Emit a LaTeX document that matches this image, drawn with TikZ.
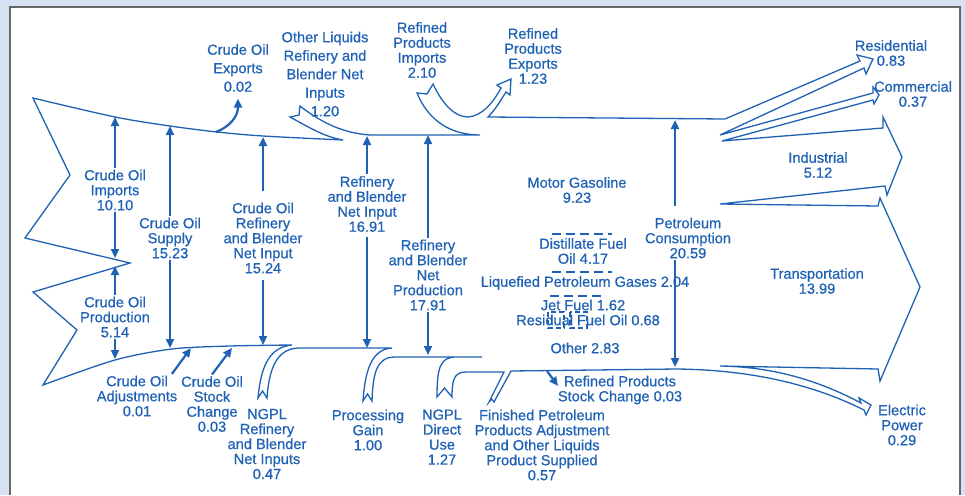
\documentclass[tikz,border=0pt]{standalone}
\usepackage{fontspec}
\setmainfont{Liberation Sans}[FakeBold=0.6]
\usetikzlibrary{arrows.meta}
\definecolor{eiablue}{HTML}{1F62B5}
\definecolor{panelblue}{HTML}{D6E2F3}

\begin{document}
\begin{tikzpicture}[x=1pt, y=-1pt,
        lbl/.style={text=eiablue, align=center, inner sep=1.5pt, font=\fontsize{14.6}{15}\selectfont},
        lblwide/.style={lbl, font=\fontsize{14.6}{18.5}\selectfont},
        flow/.style={draw=eiablue, line width=1.3pt, line join=miter},
        feed/.style={draw=eiablue, line width=2.2pt, -{Triangle[length=9pt,width=8pt]}},
        cut/.style={draw=eiablue, line width=1.8pt, dash pattern=on 9pt off 5pt}]
        \useasboundingbox (0,0) rectangle (965,495);
        \fill[panelblue] (0,0) rectangle (965,495);
        \fill[white] (10,7) rectangle (960,495);
        \draw[gray!80!black, line width=1.3pt] (10,495) -- (10,7) -- (960,7) -- (960,495);

        \draw[flow] (482,357) -- (395,357) .. controls (377,357) and (373,372) .. (372,401)
          -- (367.5,394) -- (363,401) .. controls (365,372) and (371,349) .. (392,348)
          -- (298,348) .. controls (276,349) and (269,370) .. (267,398)
          -- (262.5,391) -- (258,398) .. controls (261,365) and (270,347) .. (292,345)
          -- plot[smooth] coordinates {(292,345) (230,346) (172,349) (115,360) (43,385)}
          -- (77,330) -- (33,292) -- (130,263) -- (25,238) -- (70,175) -- (33,98)
          -- plot[smooth] coordinates {(33,98) (115,117) (170,126) (217,132) (263,136) (343,140)}
          .. controls (325,137) and (310,128) .. (290,117) -- (299,115) -- (300,106)
          .. controls (318,120) and (340,133) .. (370,135) -- (480,135)
          .. controls (450,135) and (428,120) .. (417,93) -- (427,94) -- (433,84)
          .. controls (443,105) and (455,117) .. (468,117)
          .. controls (482,116) and (493,103) .. (501,88) -- (497,85) -- (511,79) -- (510,95) -- (506,92)
          .. controls (501,100) and (495,110) .. (488,117) -- (725,119)
          -- (860,61) -- (857,55) -- (873,59) -- (866,74) -- (864,68) -- (720,135)
          -- (873,93) -- (873,87) -- (879,95) -- (874,104) -- (873,100) -- (722,141)
          -- (883,128) -- (883,117) -- (902,157) -- (887,195) -- (885,186) -- (720,204)
          -- (878,206) -- (880,198) -- (920,287) -- (880,381) -- (878,369) -- (720,366)
          .. controls (780,367) and (825,384) .. (861,403) -- (859,398) -- (871,405) -- (866,415) -- (864,410)
          .. controls (820,388) and (760,370) .. (677,369) -- (511,371)
          -- (494,402) -- (491.5,399) -- (489,402) -- (504,372) -- (466,372)
          .. controls (454,372) and (452,380) .. (452,397) -- (444.5,388) -- (437,397)
          .. controls (437,368) and (440,357) .. (456,357);

        \draw[cut] (552,234) -- (612,234);
        \draw[cut] (552,272) -- (612,272);
        \draw[cut] (550,296) -- (606,296);
        \draw[cut, dash pattern=on 5pt off 3pt] (548,312) rectangle (564,328);
        \draw[cut, dash pattern=on 5pt off 3pt] (570,312) rectangle (587,328);

        \node[lblwide] (cex) at (238,68) {Crude Oil\\Exports\\0.02};
        \node[lblwide] (oli) at (325,74) {Other Liquids\\Refinery and\\Blender Net\\Inputs\\1.20};
        \node[lbl] (rpi) at (422,50) {Refined\\Products\\Imports\\2.10};
        \node[lbl] (rpe) at (533,56) {Refined\\Products\\Exports\\1.23};
        \node[lbl] (res) at (891,53) {Residential\\0.83};
        \node[lbl] (com) at (913,94) {Commercial\\0.37};
        \node[lbl] (ind) at (818,165) {Industrial\\5.12};
        \node[lbl] (tra) at (817,281) {Transportation\\13.99};
        \node[lbl] (ele) at (902,425) {Electric\\Power\\0.29};
        \node[lbl] (mg) at (577,190) {Motor Gasoline\\9.23};
        \node[lbl] (dfo) at (583,251) {Distillate Fuel\\Oil 4.17};
        \node[lbl] (lpg) at (585,283) {Liquefied Petroleum Gases 2.04};
        \node[lbl] (jet) at (583,305) {Jet Fuel 1.62};
        \node[lbl] (rfo) at (588,320) {Residual Fuel Oil 0.68};
        \node[lbl] (oth) at (585,348) {Other 2.83};
        \node[lbl] (cons) at (688,238) {Petroleum\\Consumption\\20.59};
        \node[lbl] (rbin) at (367,204) {Refinery\\and Blender\\Net Input\\16.91};
        \node[lbl] (rbp) at (428,275) {Refinery\\and Blender\\Net\\Production\\17.91};
        \node[lbl] (imp) at (115,190) {Crude Oil\\Imports\\10.10};
        \node[lbl] (sup) at (170,238) {Crude Oil\\Supply\\15.23};
        \node[lbl] (cref) at (263,238) {Crude Oil\\Refinery\\and Blender\\Net Input\\15.24};
        \node[lbl] (prod) at (115,317) {Crude Oil\\Production\\5.14};
        \node[lbl] (adj) at (137,396) {Crude Oil\\Adjustments\\0.01};
        \node[lbl] (stk) at (212,404) {Crude Oil\\Stock\\Change\\0.03};
        \node[lbl] (ngr) at (267,444) {NGPL\\Refinery\\and Blender\\Net Inputs\\0.47};
        \node[lbl] (pg) at (368,430) {Processing\\Gain\\1.00};
        \node[lbl] (ngd) at (442,437) {NGPL\\Direct\\Use\\1.27};
        \node[lbl] (fpa) at (542,445) {Finished Petroleum\\Products Adjustment\\and Other Liquids\\Product Supplied\\0.57};
        \node[lbl] (rpsc) at (620,390) {Refined Products\\Stock Change 0.03};

        \coordinate (impT) at (115,117);
        \coordinate (impB) at (115,258);
        \coordinate (prodT) at (115,266);
        \coordinate (prodB) at (115,359);
        \coordinate (supT) at (170,126);
        \coordinate (supB) at (170,348);
        \coordinate (crefT) at (263,137);
        \coordinate (crefB) at (263,345);
        \coordinate (rbinT) at (367,136);
        \coordinate (rbinB) at (367,348);
        \coordinate (rbpT) at (428,135);
        \coordinate (rbpB) at (428,355);
        \coordinate (consT) at (675,120);
        \coordinate (consB) at (675,367);
        \coordinate (cexS) at (216,132);
        \coordinate (adjT) at (191,348);
        \coordinate (stkT) at (232,348);
        \coordinate (rpscS) at (547,371);
        \coordinate (rpscT) at (558,386);

        \draw[feed] (imp) -- (impT);
        \draw[feed] (imp) -- (impB);
        \draw[feed] (prod) -- (prodT);
        \draw[feed] (prod) -- (prodB);
        \draw[feed] (sup) -- (supT);
        \draw[feed] (sup) -- (supB);
        \draw[feed, shorten <=10pt] (cref) -- (crefT);
        \draw[feed, shorten <=5pt] (cref) -- (crefB);
        \draw[feed] (rbin) -- (rbinT);
        \draw[feed, shorten <=3pt] (rbin) -- (rbinB);
        \draw[feed] (rbp) -- (rbpT);
        \draw[feed] (rbp) -- (rbpB);
        \draw[feed, shorten <=10pt] (cons.north -| consT) -- (consT);
        \draw[feed] (cons.south -| consB) -- (consB);
        \draw[feed, shorten >=5pt] (cexS) .. controls (229,127) and (238,117) .. (cex.south);
        \draw[feed] ([xshift=-7pt]adj.north east) -- (adjT);
        \draw[feed] (stk.north) -- (stkT);
        \draw[feed] (rpscS) -- (rpscT);
\end{tikzpicture}
\end{document}
